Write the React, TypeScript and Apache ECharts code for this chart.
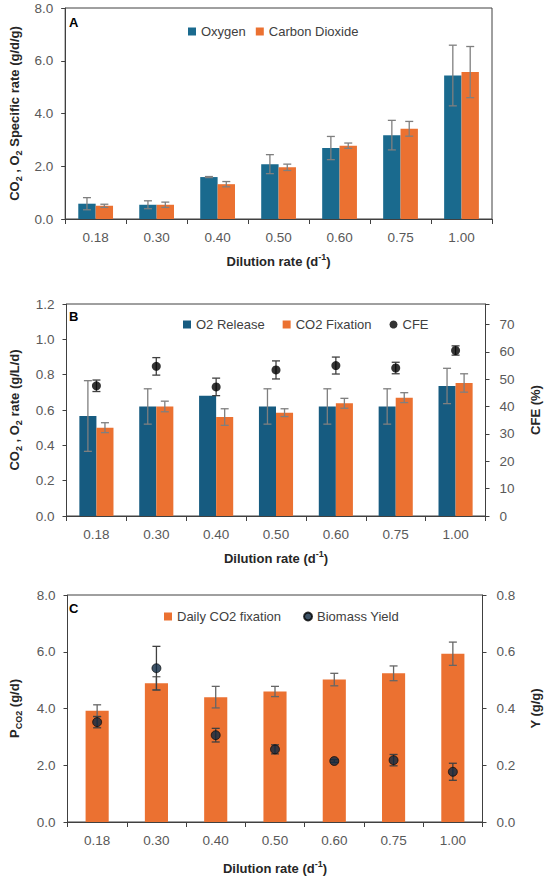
import React, { useEffect, useRef } from "react";
import * as echarts from "echarts";

// ---------- data ----------
const categories = ["0.18", "0.30", "0.40", "0.50", "0.60", "0.75", "1.00"];

// Panel A: specific rates (g/d/g)
const oxygenA = [0.58, 0.54, 1.59, 2.08, 2.69, 3.18, 5.44];
const oxygenAErr = [0.23, 0.15, 0.02, 0.36, 0.44, 0.56, 1.15];
const co2A = [0.5, 0.54, 1.32, 1.96, 2.78, 3.42, 5.57];
const co2AErr = [0.06, 0.1, 0.1, 0.12, 0.1, 0.28, 0.97];

// Panel B: volumetric rates (g/L/d) and CFE (%)
const o2Release = [0.566, 0.62, 0.68, 0.62, 0.62, 0.62, 0.736];
const o2ReleaseErr = [0.2, 0.1, 0, 0.1, 0.1, 0.1, 0.1];
const co2Fixation = [0.5, 0.62, 0.56, 0.585, 0.638, 0.67, 0.753];
const co2FixationErr = [0.028, 0.03, 0.047, 0.022, 0.028, 0.028, 0.052];
const cfe = [47.6, 54.7, 47.2, 53.4, 55.0, 54.1, 60.5];
const cfeErr = [2.1, 3.2, 3.2, 3.3, 3.1, 2.1, 1.7];

// Panel C: daily CO2 fixation (g/d) and biomass yield (g/g)
const dailyCo2 = [3.92, 4.89, 4.4, 4.6, 5.02, 5.24, 5.93];
const dailyCo2Err = [0.21, 0.23, 0.38, 0.18, 0.22, 0.26, 0.41];
const biomassYield = [0.352, 0.542, 0.306, 0.256, 0.215, 0.218, 0.177];
const biomassYieldErr = [0.02, 0.077, 0.024, 0.016, 0.005, 0.02, 0.03];

// ---------- styling ----------
const FONT = "'Liberation Sans', Arial, 'DejaVu Sans', sans-serif";
const BLUE_A = "#1A6A8E";
const BLUE_B = "#165B80";
const ORANGE = "#EB7131";
const AXIS = "#404040";
const LABEL = "#595959";
const TITLE = "#262626";

const rich = {
  b: { fontSize: 13, fontWeight: "bold", color: TITLE, fontFamily: FONT, lineHeight: 18, verticalAlign: "middle" },
  s: { fontSize: 9, fontWeight: "bold", color: TITLE, fontFamily: FONT, lineHeight: 9, verticalAlign: "bottom" },
  sup: { fontSize: 9, fontWeight: "bold", color: TITLE, fontFamily: FONT, lineHeight: 9, verticalAlign: "top" },
};

const X_NAME = "{b|Dilution rate (d}{sup|-1}{b|)}";

function xAxisFor(gridIndex: number, nameGap: number) {
  return {
    type: "category",
    gridIndex,
    data: categories,
    name: X_NAME,
    nameLocation: "middle",
    nameGap,
    nameTextStyle: { rich },
    axisLine: { lineStyle: { color: AXIS, width: 1 } },
    axisTick: { show: true, length: 5, lineStyle: { color: AXIS } },
    axisLabel: { fontSize: 13.5, color: LABEL, margin: 11, fontFamily: FONT },
    splitLine: { show: false },
  };
}

function yAxisFor(
  gridIndex: number,
  min: number,
  max: number,
  interval: number,
  name: string,
  nameGap: number,
  position: "left" | "right",
  fmt: (v: number) => string
) {
  return {
    type: "value",
    gridIndex,
    min,
    max,
    interval,
    position,
    name,
    nameLocation: "middle",
    nameGap,
    nameRotate: 90,
    nameTextStyle: { rich },
    axisLine: { show: true, lineStyle: { color: AXIS, width: 1 } },
    axisTick: { show: true, length: 4, lineStyle: { color: AXIS } },
    axisLabel: { fontSize: 13.5, color: LABEL, margin: position === "left" ? 12 : 14, formatter: fmt, fontFamily: FONT },
    splitLine: { show: false },
  };
}

function errorSeries(
  xAxisIndex: number,
  yAxisIndex: number,
  values: number[],
  errs: number[],
  offset: number,
  color: string,
  z: number
) {
  return {
    type: "custom",
    xAxisIndex,
    yAxisIndex,
    z,
    silent: true,
    data: values.map((v, i) => [i, v, errs[i]]),
    encode: { x: 0, y: 1 },
    renderItem: (_params: any, api: any) => {
      const i = api.value(0);
      const v = api.value(1);
      const e = api.value(2);
      if (!(e > 0)) return { type: "group", children: [] };
      const band = api.size([1, 0])[0];
      const x = api.coord([i, v])[0] + offset * band;
      const yT = api.coord([i, v + e])[1];
      const yB = api.coord([i, v - e])[1];
      const cap = 4;
      const style = { stroke: color, lineWidth: 1.3 };
      return {
        type: "group",
        children: [
          { type: "line", shape: { x1: x, y1: yT, x2: x, y2: yB }, style },
          { type: "line", shape: { x1: x - cap, y1: yT, x2: x + cap, y2: yT }, style },
          { type: "line", shape: { x1: x - cap, y1: yB, x2: x + cap, y2: yB }, style },
        ],
      };
    },
  };
}

const fmt1 = (v: number) => v.toFixed(1);
const fmtInt10 = (v: number) => (Math.abs(v % 10) < 1e-6 ? String(Math.round(v)) : "");

const legendText = { fontSize: 13, color: "#404040", fontFamily: FONT };

export default function App() {
  const ref = useRef<HTMLDivElement>(null);

  useEffect(() => {
    if (!ref.current) return;
    const chart = echarts.init(ref.current, undefined, { renderer: "svg" });
    const barOffset = 0.1425;

    const option: any = {
      animation: false,
      textStyle: { fontFamily: FONT },
      grid: [
        { left: 61, top: 8, width: 431, height: 211, show: true, borderColor: AXIS, borderWidth: 1 },
        { left: 61, top: 304, width: 431, height: 212, show: true, borderColor: AXIS, borderWidth: 1 },
        { left: 63, top: 595, width: 431, height: 227, show: true, borderColor: AXIS, borderWidth: 1 },
      ],
      xAxis: [xAxisFor(0, 33), xAxisFor(1, 33), xAxisFor(2, 37)],
      yAxis: [
        yAxisFor(0, 0, 8, 2, "{b|CO}{s|2}{b| , O}{s|2}{b| Specific rate (g/d/g)}", 41, "left", fmt1),
        yAxisFor(1, 0, 1.2, 0.2, "{b|CO}{s|2}{b| , O}{s|2}{b| rate (g/L/d)}", 43, "left", fmt1),
        yAxisFor(1, 0, 77.5, 10, "{b|CFE (%)}", 41, "right", fmtInt10),
        yAxisFor(2, 0, 8, 2, "{b|P}{s|CO2}{b| (g/d)}", 44, "left", fmt1),
        yAxisFor(2, 0, 0.8, 0.2, "{b|Y (g/g)}", 44, "right", fmt1),
      ],
      legend: [
        {
          data: [
            { name: "Oxygen", icon: "rect" },
            { name: "Carbon Dioxide", icon: "rect" },
          ],
          left: 183,
          top: 20,
          itemWidth: 8,
          itemHeight: 8,
          itemGap: 10,
          textStyle: legendText,
          selectedMode: false,
        },
        {
          data: [
            { name: "O2 Release", icon: "rect" },
            { name: "CO2 Fixation", icon: "rect" },
            { name: "CFE", icon: "circle" },
          ],
          left: 178,
          top: 313,
          itemWidth: 8,
          itemHeight: 8,
          itemGap: 18,
          textStyle: legendText,
          selectedMode: false,
        },
        {
          data: [
            { name: "Daily CO2 fixation", icon: "rect" },
            { name: "Biomass Yield", icon: "circle" },
          ],
          left: 159,
          top: 605,
          itemWidth: 8,
          itemHeight: 8,
          itemGap: 22,
          textStyle: legendText,
          selectedMode: false,
        },
      ],
      graphic: [
        { type: "text", left: 69, top: 16, style: { text: "A", font: `bold 13px ${FONT}`, fill: "#000" } },
        { type: "text", left: 69, top: 310, style: { text: "B", font: `bold 13px ${FONT}`, fill: "#000" } },
        { type: "text", left: 69, top: 602, style: { text: "C", font: `bold 13px ${FONT}`, fill: "#000" } },
      ],
      series: [
        // Panel A
        {
          name: "Oxygen",
          type: "bar",
          xAxisIndex: 0,
          yAxisIndex: 0,
          data: oxygenA,
          itemStyle: { color: BLUE_A },
          barGap: "0%",
          barCategoryGap: "43%",
        },
        {
          name: "Carbon Dioxide",
          type: "bar",
          xAxisIndex: 0,
          yAxisIndex: 0,
          data: co2A,
          itemStyle: { color: ORANGE },
          barGap: "0%",
          barCategoryGap: "43%",
        },
        errorSeries(0, 0, oxygenA, oxygenAErr, -barOffset, "#7F7F7F", 5),
        errorSeries(0, 0, co2A, co2AErr, barOffset, "#7F7F7F", 5),
        // Panel B
        {
          name: "O2 Release",
          type: "bar",
          xAxisIndex: 1,
          yAxisIndex: 1,
          data: o2Release,
          itemStyle: { color: BLUE_B },
          barGap: "0%",
          barCategoryGap: "43%",
        },
        {
          name: "CO2 Fixation",
          type: "bar",
          xAxisIndex: 1,
          yAxisIndex: 1,
          data: co2Fixation,
          itemStyle: { color: ORANGE },
          barGap: "0%",
          barCategoryGap: "43%",
        },
        errorSeries(1, 1, o2Release, o2ReleaseErr, -barOffset, "#7F7F7F", 5),
        errorSeries(1, 1, co2Fixation, co2FixationErr, barOffset, "#7F7F7F", 5),
        errorSeries(1, 2, cfe, cfeErr, 0, "#404040", 6),
        {
          name: "CFE",
          type: "scatter",
          xAxisIndex: 1,
          yAxisIndex: 2,
          data: cfe,
          symbol: "circle",
          symbolSize: 9,
          itemStyle: { color: "#000000" },
          z: 7,
        },
        // Panel C
        {
          name: "Daily CO2 fixation",
          type: "bar",
          xAxisIndex: 2,
          yAxisIndex: 3,
          data: dailyCo2,
          itemStyle: { color: ORANGE },
          barWidth: "39%",
        },
        errorSeries(2, 3, dailyCo2, dailyCo2Err, 0, "#666666", 5),
        errorSeries(2, 4, biomassYield, biomassYieldErr, 0, "#404040", 6),
        {
          name: "Biomass Yield",
          type: "scatter",
          xAxisIndex: 2,
          yAxisIndex: 4,
          data: biomassYield,
          symbol: "circle",
          symbolSize: 9,
          itemStyle: { color: "#0E2841", borderColor: "#000000", borderWidth: 0.8 },
          z: 7,
        },
      ],
    };

    chart.setOption(option);
    return () => chart.dispose();
  }, []);

  return (
    <div
      ref={ref}
      style={{ position: "absolute", left: 0, top: 0, width: 550, height: 877, background: "#fff" }}
    />
  );
}
